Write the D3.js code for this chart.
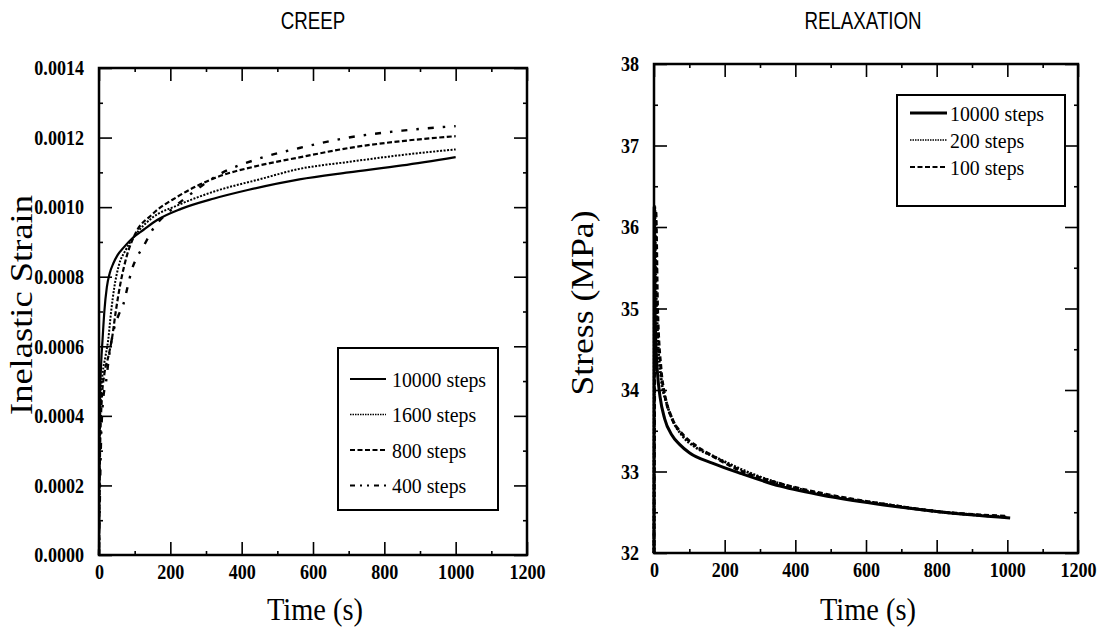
<!DOCTYPE html>
<html>
<head>
<meta charset="utf-8">
<script src="https://cdn.jsdelivr.net/npm/d3@7"></script>
<style>
  body { margin: 0; background: #fff; }
</style>
</head>
<body>
<svg id="chart" width="1107" height="633"></svg>
<script>
// ---- creep panel: [time (s), inelastic strain]
const creepNames = ["10000 steps", "1600 steps", "800 steps", "400 steps"];
const creep10000 = [[0, 0], [1, 0.00025], [3, 0.00045], [6, 0.00055], [10, 0.00062], [15, 0.0007], [22, 0.00077],
   [30, 0.00081], [40, 0.000838], [52, 0.000862], [70, 0.000885], [95, 0.000912], [125, 0.000935], [163, 0.000963],
   [230, 0.000995], [323, 0.001025], [420, 0.00105], [562, 0.00108], [700, 0.0011], [850, 0.00112], [1000, 0.001144]];
const creep1600 = [[0, 0], [2, 0.0003], [5, 0.00045], [10, 0.00052], [18, 0.00057], [26, 0.00062], [34, 0.0007],
   [43, 0.00077], [55, 0.00083], [75, 0.000877], [98, 0.000915], [150, 0.00097], [220, 0.001005], [323, 0.001045],
   [450, 0.00108], [562, 0.00111], [700, 0.00113], [850, 0.00115], [1000, 0.001166]];
const creep800 = [[0, 0], [3, 0.0003], [8, 0.00045], [15, 0.00052], [26, 0.00057], [36, 0.00062], [47, 0.0007],
   [60, 0.00078], [78, 0.00086], [100, 0.00092], [150, 0.00098], [220, 0.00103], [323, 0.001083], [450, 0.00112],
   [562, 0.001143], [700, 0.00117], [850, 0.00119], [1000, 0.001204]];
const creep400 = [[0, 0], [5, 0.0003], [12, 0.00045], [20, 0.0005], [28, 0.00057], [42, 0.00065], [55, 0.00069],
   [68, 0.00072], [80, 0.00077], [92, 0.00082], [106, 0.000855], [125, 0.000888], [150, 0.000935], [200, 0.00099],
   [260, 0.00104], [330, 0.00109], [450, 0.00114], [562, 0.00117], [700, 0.0012], [850, 0.00122], [1000, 0.001233]];

// ---- relaxation panel: [time (s), stress (MPa)]
const relaxNames = ["10000 steps", "200 steps", "100 steps"];
const relax10000 = [[0, 32], [0.5, 36.25], [1.5, 35.6], [3, 35.0], [6, 34.5], [10, 34.2], [17, 33.92], [30, 33.65],
   [50, 33.45], [73, 33.33], [100, 33.23], [167, 33.1], [250, 32.97], [357, 32.82], [500, 32.69], [650, 32.59],
   [800, 32.51], [1008, 32.43]];
const relax200 = [[0, 32], [2, 36.25], [5, 35.4], [10, 34.7], [20, 34.15], [35, 33.85], [54, 33.62], [80, 33.44],
   [120, 33.29], [167, 33.19], [250, 33.02], [357, 32.85], [500, 32.7], [650, 32.6], [800, 32.51], [1000, 32.44]];
const relax100 = [[0, 32], [5, 36.2], [10, 35.0], [20, 34.25], [30, 33.95], [50, 33.66], [80, 33.46], [120, 33.31],
   [170, 33.18], [250, 33.0], [350, 32.86], [500, 32.71], [650, 32.6], [800, 32.51], [1000, 32.45]];

// ---- tick values
const timeMajor = [0, 200, 400, 600, 800, 1000, 1200];
const timeMinor = [100, 300, 500, 700, 900, 1100];
const strainMajor = [0, 0.0002, 0.0004, 0.0006, 0.0008, 0.0010, 0.0012, 0.0014];
const strainMinor = [0.0001, 0.0003, 0.0005, 0.0007, 0.0009, 0.0011, 0.0013];
const stressMajor = [32, 33, 34, 35, 36, 37, 38];
const stressMinor = [32.5, 33.5, 34.5, 35.5, 36.5, 37.5];

const serif = "'Liberation Serif', 'Times New Roman', serif";
const sans = "'Liberation Sans', Arial, sans-serif";

const svg = d3.select("#chart");

// the scanned figure is squeezed sideways: narrow the glyphs a bit
function condense(sel, k) {
   sel.each(function () {
      const w = this.getComputedTextLength();
      d3.select(this).attr("textLength", w * k).attr("lengthAdjust", "spacingAndGlyphs");
   });
}

function ticks(g, axis, values, size, fmt, pad) {
   const a = g.append("g")
      .call(axis.tickValues(values).tickSize(-size).tickSizeOuter(0).tickPadding(pad || 0)
         .tickFormat(fmt || (() => "")));
   a.select(".domain").remove();
   a.selectAll("line").attr("stroke", "#000").attr("stroke-width", 1.6);
   a.attr("font-family", serif).attr("font-size", 21).attr("font-weight", "bold");
   a.selectAll("text").attr("fill", "#000");
   if (fmt) condense(a.selectAll("text"), 0.86);
   return a;
}

function drawPanel(p) {
   const x = d3.scaleLinear().domain([0, 1200]).range([p.left, p.right]);
   const y = d3.scaleLinear().domain(p.yDomain).range([p.bottom, p.top]);
   const g = svg.append("g");

   // bottom / top
   ticks(g, d3.axisBottom(x), timeMajor, 13, d3.format("d"), 9).attr("transform", `translate(0,${p.bottom})`);
   ticks(g, d3.axisBottom(x), timeMinor, 4).attr("transform", `translate(0,${p.bottom})`);
   ticks(g, d3.axisTop(x), timeMajor, 13).attr("transform", `translate(0,${p.top})`);
   ticks(g, d3.axisTop(x), timeMinor, 4).attr("transform", `translate(0,${p.top})`);
   // left / right
   ticks(g, d3.axisLeft(y), p.yMajor, 13, p.yFormat, 15).attr("transform", `translate(${p.left},0)`);
   ticks(g, d3.axisLeft(y), p.yMinor, 4).attr("transform", `translate(${p.left},0)`);
   ticks(g, d3.axisRight(y), p.yMajor, 13).attr("transform", `translate(${p.right},0)`);
   ticks(g, d3.axisRight(y), p.yMinor, 4).attr("transform", `translate(${p.right},0)`);

   g.append("rect")
      .attr("x", p.left).attr("y", p.top)
      .attr("width", p.right - p.left).attr("height", p.bottom - p.top)
      .attr("fill", "none").attr("stroke", "#000").attr("stroke-width", 2.5);

   const line = d3.line()
      .x(d => x(d[0]))
      .y(d => y(d[1]))
      .curve(d3.curveMonotoneX);

   g.append("g").selectAll("path")
      .data(p.series)
      .join("path")
      .attr("d", d => line(d))
      .attr("fill", "none")
      .attr("stroke", "#000")
      .attr("stroke-width", (d, i) => p.widths[i])
      .attr("stroke-dasharray", (d, i) => p.dashes[i]);

   // titles
   g.append("text")
      .attr("x", p.titleX).attr("y", 29)
      .attr("text-anchor", "middle")
      .attr("font-family", sans).attr("font-size", 24)
      .text(p.title)
      .call(condense, 0.78);

   g.append("text")
      .attr("x", (p.left + p.right) / 2 + 2).attr("y", 620)
      .attr("text-anchor", "middle")
      .attr("font-family", serif).attr("font-size", 32)
      .attr("textLength", 96).attr("lengthAdjust", "spacingAndGlyphs")
      .text("Time (s)");

   g.append("text")
      .attr("transform", `translate(${p.yLabelX},${p.yLabelY}) rotate(-90)`)
      .attr("text-anchor", "middle")
      .attr("font-family", serif).attr("font-size", 32)
      .attr("textLength", p.yLabelLen).attr("lengthAdjust", "spacingAndGlyphs")
      .text(p.yLabel);

   // legend
   const lg = g.append("g");
   lg.append("rect")
      .attr("x", p.legend.x0).attr("y", p.legend.y0)
      .attr("width", p.legend.x1 - p.legend.x0).attr("height", p.legend.y1 - p.legend.y0)
      .attr("fill", "#fff").attr("stroke", "#000").attr("stroke-width", 2);
   const rows = lg.selectAll("g.row")
      .data(p.names)
      .join("g")
      .attr("class", "row")
      .attr("transform", (d, i) => `translate(0,${p.legend.firstY + i * p.legend.step})`);
   rows.append("line")
      .attr("x1", p.legend.lineX0).attr("x2", p.legend.lineX1)
      .attr("stroke", "#000")
      .attr("stroke-width", (d, i) => p.legendWidths[i])
      .attr("stroke-dasharray", (d, i) => p.legendDashes[i]);
   rows.append("text")
      .attr("x", p.legend.textX).attr("dy", "0.35em")
      .attr("font-family", serif).attr("font-size", 22)
      .text(d => d)
      .call(condense, 0.9);
}

drawPanel({
   left: 99, right: 527, top: 68, bottom: 555,
   yDomain: [0, 0.0014], yMajor: strainMajor, yMinor: strainMinor, yFormat: d3.format(".4f"),
   series: [creep10000, creep1600, creep800, creep400],
   names: creepNames,
   widths: [2.2, 2, 2.2, 2.4],
   dashes: [null, "2,1.5", "5,2.5", "6,9,2.5,9"],
   legendWidths: [2, 1.6, 2.2, 2.2],
   legendDashes: [null, "1.5,1", "5,2.5", "5,5,2,5,2,5"],
   title: "CREEP", titleX: 313,
   yLabel: "Inelastic Strain", yLabelX: 32, yLabelY: 305, yLabelLen: 220,
   legend: { x0: 338, y0: 348, x1: 498, y1: 510, firstY: 379, step: 35.5, lineX0: 350, lineX1: 386, textX: 392 }
});

drawPanel({
   left: 654, right: 1078, top: 64, bottom: 553,
   yDomain: [32, 38], yMajor: stressMajor, yMinor: stressMinor, yFormat: d3.format("d"),
   series: [relax10000, relax200, relax100],
   names: relaxNames,
   widths: [3, 2.8, 3],
   dashes: [null, "2,1.5", "5,3"],
   legendWidths: [2.8, 1.6, 2.2],
   legendDashes: [null, "1.5,1", "5,2.5"],
   title: "RELAXATION", titleX: 863,
   yLabel: "Stress (MPa)", yLabelX: 593, yLabelY: 303, yLabelLen: 185,
   legend: { x0: 897, y0: 95, x1: 1065, y1: 206, firstY: 113, step: 27, lineX0: 910, lineX1: 947, textX: 950 }
});
</script>
</body>
</html>
